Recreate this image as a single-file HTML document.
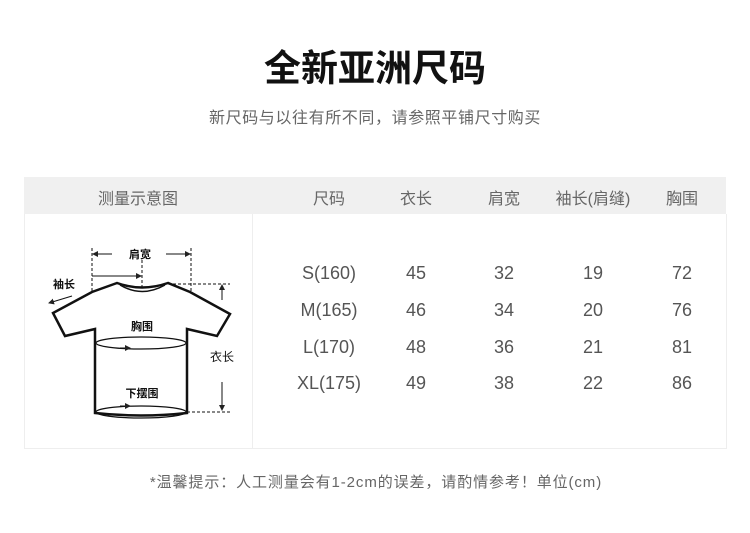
<!DOCTYPE html>
<html><head><meta charset="utf-8"><style>
body{margin:0;width:750px;height:533px;background:#fff;position:relative;overflow:hidden;font-family:"Liberation Sans","Noto Sans CJK SC",sans-serif;}
.a{position:absolute;white-space:nowrap;}
.c{transform:translateX(-50%);}
</style></head><body>
<div class="a c" style="left:375px;top:47px;font-size:37px;font-weight:bold;color:#111;line-height:44px;">全新亚洲尺码</div>
<div class="a c" style="left:375px;top:108px;font-size:16px;color:#666;line-height:22px;letter-spacing:0.6px;">新尺码与以往有所不同，请参照平铺尺寸购买</div>
<div class="a" style="left:24px;top:177px;width:702px;height:37px;background:#f0f0f0;"></div>
<div class="a" style="left:24px;top:214px;width:701px;height:234px;border:1px solid #eee;border-top:none;"></div>
<div class="a" style="left:252px;top:214px;width:1px;height:234px;background:#eee;"></div>
<div class="a c" style="left:138px;top:185px;font-size:16px;color:#666;">测量示意图</div>
<div class="a c" style="left:329px;top:185px;font-size:16px;color:#666;">尺码</div>
<div class="a c" style="left:416px;top:185px;font-size:16px;color:#666;">衣长</div>
<div class="a c" style="left:504px;top:185px;font-size:16px;color:#666;">肩宽</div>
<div class="a c" style="left:593px;top:185px;font-size:16px;color:#666;">袖长(肩缝)</div>
<div class="a c" style="left:682px;top:185px;font-size:16px;color:#666;">胸围</div>
<div style="position:absolute;left:0;top:0;font-size:18px;color:#555;">
<div class="a c" style="left:329px;top:263px">S(160)</div><div class="a c" style="left:416px;top:263px">45</div><div class="a c" style="left:504px;top:263px">32</div><div class="a c" style="left:593px;top:263px">19</div><div class="a c" style="left:682px;top:263px">72</div>
<div class="a c" style="left:329px;top:300px">M(165)</div><div class="a c" style="left:416px;top:300px">46</div><div class="a c" style="left:504px;top:300px">34</div><div class="a c" style="left:593px;top:300px">20</div><div class="a c" style="left:682px;top:300px">76</div>
<div class="a c" style="left:329px;top:337px">L(170)</div><div class="a c" style="left:416px;top:337px">48</div><div class="a c" style="left:504px;top:337px">36</div><div class="a c" style="left:593px;top:337px">21</div><div class="a c" style="left:682px;top:337px">81</div>
<div class="a c" style="left:329px;top:373px">XL(175)</div><div class="a c" style="left:416px;top:373px">49</div><div class="a c" style="left:504px;top:373px">38</div><div class="a c" style="left:593px;top:373px">22</div><div class="a c" style="left:682px;top:373px">86</div>
</div>
<svg class="a" style="left:0;top:0" width="260" height="450" viewBox="0 0 260 450">
<defs><marker id="m" markerWidth="6" markerHeight="6" refX="5" refY="3" orient="auto"><path d="M0,0L6,3L0,6z" fill="#222"/></marker></defs>
<g fill="none" stroke="#111">
<path d="M117,283 L92,292 L53,313 L65,336 L95,329 L95,413 Q141,418 187,413 L187,329 L217,336 L230,314 L190,292 L168,283 Q142,292 117,283 Z" stroke-width="2.5" fill="#fff"/>
<path d="M120,285 Q142,298 165,285" stroke-width="1.5"/>
<ellipse cx="141" cy="343" rx="45" ry="6" stroke-width="1.2"/>
<ellipse cx="141" cy="412" rx="45" ry="6" stroke-width="1.2"/>
<g stroke-dasharray="3,2" stroke-width="1">
<path d="M92,248V292M191,248V292M142,260V288M168,284H230M187,412H230"/>
</g>
<g stroke-width="1">
<path d="M112,254H93" marker-end="url(#m)"/><path d="M166,254H190" marker-end="url(#m)"/>
<path d="M92,276H141" marker-end="url(#m)"/>
<path d="M72,296L49,303" marker-end="url(#m)"/>
<path d="M222,300V285" marker-end="url(#m)"/><path d="M222,382V410" marker-end="url(#m)"/>
<path d="M120,348H130" marker-end="url(#m)"/><path d="M120,406H130" marker-end="url(#m)"/>
</g>
</g>
<g font-size="11" fill="#111" font-weight="bold" text-anchor="middle" font-family="Liberation Sans,Noto Sans CJK SC,sans-serif">
<text x="140" y="258">肩宽</text><text x="64" y="288">袖长</text><text x="142" y="330">胸围</text><text x="142" y="397">下摆围</text><text x="222" y="361" font-weight="normal" font-size="12">衣长</text>
</g>
</svg>
<div class="a c" style="left:376px;top:471px;font-size:15px;color:#666;letter-spacing:0.9px;">*温馨提示：人工测量会有1-2cm的误差，请酌情参考！单位(cm)</div>
</body></html>
